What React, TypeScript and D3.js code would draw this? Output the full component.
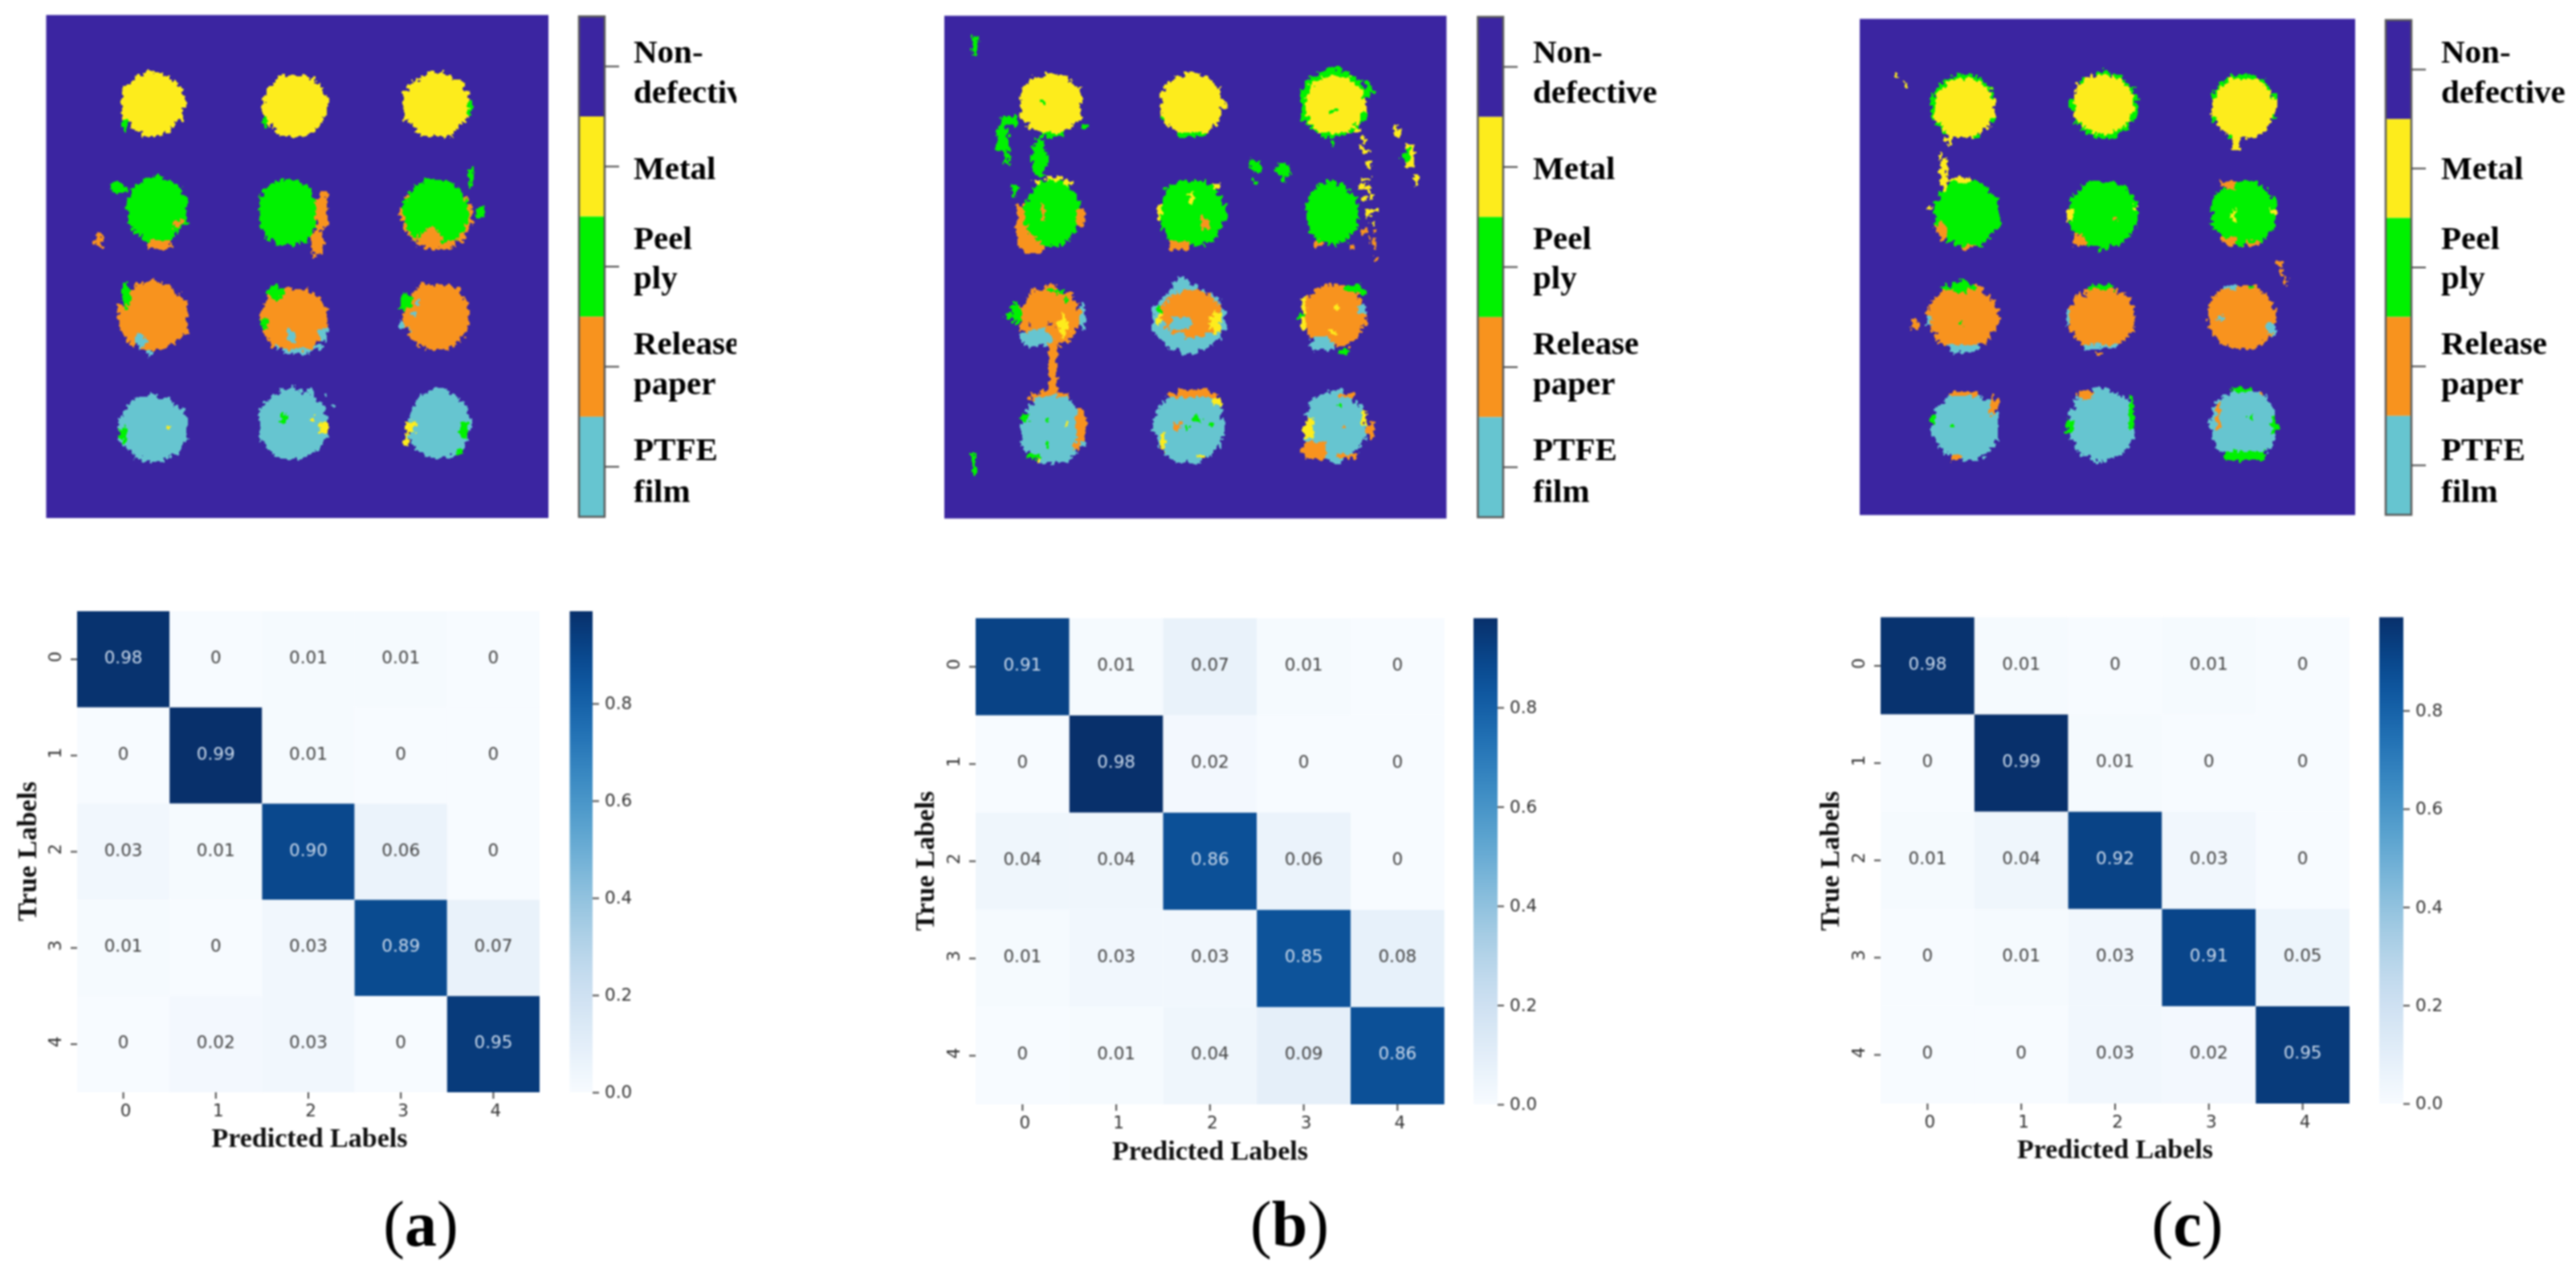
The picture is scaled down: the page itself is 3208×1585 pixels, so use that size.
// App.tsx - segmentation maps and confusion matrices, three methods
import { useRef, useEffect } from "react";
import * as d3 from "d3";

const classNames = [
  ["Non-", "defective"],
  ["Metal"],
  ["Peel", "ply"],
  ["Release", "paper"],
  ["PTFE", "film"],
];
const classColors = ["#3b25a1", "#fdec1c", "#00f200", "#f8931e", "#66c5d0"];
const BG = 0, Y = 1, G = 2, O = 3, T = 4;

// map patches, painted in order: class, column, row, radius in columns, radius in rows (125 x 125 map)
const mapPatchesA = [
  [G, 19.8, 27.5, 0.5, 2], [Y, 26.6, 22, 8, 7.8],
  [G, 54.6, 26.2, 0.8, 1.5], [Y, 61.9, 22.5, 8, 7.8],
  [G, 105.4, 23.2, 0.9, 1.8], [Y, 97, 22.3, 8.2, 8],
  [O, 28, 57, 3.5, 1.5], [G, 27.5, 48.4, 7.7, 8], [G, 17.9, 43.1, 1.8, 1.3], [O, 32.8, 51.8, 0.8, 1.2],
  [O, 13.7, 56.2, 0.8, 1.8], [O, 12.5, 56, 0.4, 0.8],
  [O, 68.8, 48.4, 1.7, 4.5], [O, 67.5, 56.2, 1.3, 4], [G, 60, 49, 7.4, 8.5],
  [O, 97.1, 49.6, 8.8, 8.6], [G, 97.1, 49, 8.2, 8], [O, 95.9, 55.3, 2.8, 2],
  [G, 105.7, 40.1, 0.8, 2.5], [G, 108, 49, 1, 1],
  [O, 26.6, 74.8, 8.8, 8.4], [T, 23.6, 81, 1.8, 1.6], [T, 25.6, 84, 0.7, 1.5], [G, 19.8, 70, 1.2, 2.8],
  [T, 62.6, 82.5, 6, 1.2], [O, 61.6, 75.7, 8.3, 7.8], [G, 56.9, 68.8, 2, 1.8], [G, 54.3, 76.5, 1, 1.4],
  [T, 60.7, 79.6, 1, 1.5], [T, 69, 79.6, 0.9, 2],
  [O, 97.1, 74.8, 8.3, 8.3], [G, 89.5, 71.4, 1.6, 2], [T, 91.4, 74.8, 0.6, 0.6], [T, 92.9, 71.8, 0.6, 0.6],
  [T, 90.7, 78.3, 0.6, 0.6], [T, 88.8, 77, 0.5, 1.5],
  [T, 26.6, 102.6, 8.7, 8.2], [G, 19.2, 103.9, 0.8, 2.5], [Y, 30.7, 102.2, 0.6, 0.6],
  [T, 61.3, 101.7, 8.8, 8.7], [T, 61.3, 92.6, 0.5, 0.5], [T, 65.2, 93, 0.6, 0.5], [T, 69, 94.8, 0.6, 0.5],
  [T, 71, 97.8, 0.5, 0.7], [G, 59, 100, 0.8, 1.8], [Y, 69, 102.6, 1, 2], [Y, 66.5, 100.9, 0.6, 0.5],
  [T, 97.8, 101.7, 7.8, 8.7], [Y, 90.7, 102.2, 1.4, 1.7], [Y, 89.5, 105.2, 0.8, 1.7], [G, 104.2, 103, 1, 2.2],
  [G, 102.9, 108.7, 0.8, 0.8],
];

const mapPatchesB = [
  [G, 7.8, 7.4, 0.6, 3], [G, 8.4, 5.2, 0.7, 0.7],
  [G, 27, 29.5, 3, 0.8], [Y, 26.5, 21.9, 8, 7.6], [G, 24.4, 21.1, 0.5, 0.5],
  [G, 16.1, 26, 3, 0.8], [G, 14.4, 30.8, 1.8, 3.5], [G, 15.2, 35, 0.7, 1.7], [G, 23.8, 35.2, 1.8, 4.8],
  [G, 35.3, 27.5, 1.2, 0.8], [G, 17.4, 43.4, 0.5, 1.8],
  [G, 61.5, 29.5, 3, 0.7], [G, 54.5, 24.7, 0.7, 1.2], [Y, 61.7, 21.9, 7.9, 7.6],
  [G, 97, 21.7, 8.5, 8.4], [Y, 97.3, 22.1, 7.6, 7.4], [G, 97, 23.2, 0.6, 0.7], [G, 105.6, 17.8, 1, 1.8], [G, 96, 31, 0.5, 1.7],
  [Y, 103, 28.2, 0.7, 0.7], [Y, 104.3, 30.8, 0.8, 0.8], [Y, 104.9, 33.4, 0.8, 0.8], [Y, 103.7, 32.6, 0.6, 0.6], [Y, 105.6, 36.9, 0.7, 0.7],
  [Y, 104.9, 40.4, 0.8, 0.8], [Y, 104.3, 42.5, 0.8, 0.8], [Y, 105.6, 43, 0.8, 0.8], [Y, 106.2, 45.1, 0.8, 0.8], [Y, 104.3, 45.6, 0.7, 0.7],
  [Y, 106.9, 48.2, 0.8, 0.8], [Y, 105.6, 49, 0.6, 0.6], [Y, 106.2, 51.6, 0.7, 0.7],
  [O, 107.5, 53.8, 0.7, 0.7], [O, 104.3, 53.4, 0.7, 0.7], [O, 107.2, 56.9, 0.6, 0.7], [O, 106.2, 56, 0.7, 0.6], [O, 107.5, 60.5, 0.8, 0.6],
  [Y, 113.2, 29, 1.2, 1], [Y, 112.3, 27, 0.5, 0.5], [Y, 115.8, 35, 1.3, 3.5], [Y, 117.5, 40.4, 0.4, 1.8], [G, 115.1, 34.7, 0.8, 1.5],
  [G, 77.7, 37.3, 1.6, 1.8], [G, 77.4, 41, 0.5, 0.5], [G, 84.2, 38.6, 1.8, 2],
  [O, 21.9, 55, 4, 4], [O, 19.3, 50, 1.3, 3.5], [Y, 27, 41.2, 5, 0.8], [G, 27, 49, 7, 8.2], [O, 24.4, 49, 0.6, 2.2], [O, 34, 50, 1, 2.2],
  [G, 61.5, 49, 8.3, 8.2], [O, 58.3, 56.9, 2.5, 1.3], [O, 65.3, 51.7, 1.2, 1.8], [Y, 61.5, 45.6, 0.5, 1.5], [Y, 67.9, 42.5, 0.8, 0.8], [Y, 53.6, 49, 0.6, 2],
  [G, 96.6, 49, 6.8, 7.8], [O, 101, 57, 1, 0.5], [O, 93, 56.5, 0.6, 0.6],
  [O, 26.3, 74.7, 7.5, 7.4], [T, 23.1, 80.3, 4, 2.2], [T, 34.6, 74.2, 0.9, 3.5], [G, 17.8, 73.8, 1, 2.6], [G, 28.2, 68.1, 2.5, 0.6],
  [BG, 21.8, 76.1, 1.5, 0.4], [BG, 26.3, 76.4, 0.8, 0.4], [Y, 29.5, 77, 1.2, 2.6], [O, 27, 88, 1.5, 6], [G, 30.8, 70.7, 0.6, 0.6], [G, 16.1, 74.7, 0.7, 0.6],
  [T, 60.8, 75.5, 9, 8.2], [O, 61.5, 74.2, 7.4, 6.2], [T, 58.9, 66.8, 1.8, 1.4], [T, 58.9, 76.8, 2.8, 1.6], [T, 57.6, 80.3, 2.2, 1.8],
  [Y, 67.9, 76.4, 1.6, 3], [Y, 53.7, 74.2, 0.7, 2.5], [G, 53.9, 73, 0.7, 0.9],
  [O, 97, 74.7, 8, 7.8], [T, 94, 81.6, 3, 1.8], [G, 102.4, 68.1, 2.5, 1], [G, 99.2, 83.3, 1.5, 0.8], [Y, 89.6, 74.2, 0.7, 4], [T, 103.7, 72.9, 1.2, 1.3],
  [Y, 96.6, 78.1, 0.6, 0.6], [Y, 97.9, 72, 0.6, 0.6], [G, 89, 74.7, 0.6, 1.4],
  [O, 25.7, 94.6, 5, 1.2], [T, 27, 102.9, 8.3, 8.5], [O, 34, 102, 1.2, 4.5], [O, 33.1, 107.2, 0.8, 1.5], [G, 19.9, 99.8, 1, 1], [G, 25.7, 100.7, 0.7, 0.8],
  [Y, 30.8, 101.8, 0.4, 0.4], [G, 21.9, 109.4, 2, 0.9], [Y, 23.8, 110, 0.8, 0.5], [G, 7.5, 111.5, 0.5, 2.2], [G, 25.7, 107.2, 0.4, 1],
  [T, 61, 102, 8.7, 9], [O, 62, 94.2, 6, 1], [Y, 67.9, 95.9, 1, 1.2], [O, 58, 102.2, 1.4, 1.1], [G, 62.8, 100.3, 1, 1], [G, 60.2, 102.2, 0.5, 0.5],
  [G, 66.6, 101, 0.5, 0.5], [Y, 54.4, 106.3, 0.6, 2], [Y, 64, 109.4, 1, 0.6],
  [T, 97.3, 102, 7.7, 8.7], [O, 92.2, 108, 3.2, 2.4], [Y, 90.9, 102.8, 1.5, 2.8], [O, 99.8, 94.2, 2.5, 0.7], [Y, 104.3, 100.3, 0.7, 2], [O, 106.2, 103.3, 0.8, 2],
  [G, 98.5, 96.3, 0.7, 0.7], [O, 99.8, 102.4, 0.6, 0.6], [O, 100.5, 109.8, 3, 0.7],
];

const mapPatchesC = [
  [G, 26.3, 22, 8.2, 8.3], [Y, 26.3, 22.5, 7.7, 7.6], [Y, 9.2, 14.6, 0.4, 0.8], [Y, 11.4, 16.4, 0.4, 0.4], [Y, 22.2, 30.4, 0.8, 1.2],
  [G, 61.7, 21.7, 8.3, 8.3], [Y, 61.3, 21.4, 7.6, 7.6],
  [G, 96.9, 22, 8.2, 8.3], [Y, 96.9, 22.3, 7.9, 7.7], [Y, 95.3, 31.5, 1.2, 1.8],
  [Y, 21.2, 39.2, 1, 4.4], [Y, 20.9, 34.4, 0.5, 0.5], [Y, 17.8, 47.6, 0.4, 0.4], [G, 27.1, 48.9, 8.2, 8.4], [O, 20.6, 53.3, 1.2, 2.6], [Y, 25.4, 40.6, 3, 0.5], [O, 27.4, 57.2, 2, 0.5],
  [G, 61.3, 49.1, 8.8, 8.5], [Y, 53, 49.3, 0.6, 3], [O, 55.5, 55.9, 1.8, 1.6], [O, 64.4, 50.7, 0.8, 0.5], [Y, 69.9, 47.6, 0.4, 0.5],
  [G, 97, 49.1, 8.4, 8.3], [O, 93.2, 41.9, 2.4, 0.8], [O, 93.2, 55.9, 1.8, 1.3], [O, 98.7, 56.8, 2.3, 0.5], [Y, 94.2, 49.3, 0.8, 1.3], [Y, 104.9, 48.9, 0.5, 1],
  [O, 26, 75.1, 8.8, 8.3], [G, 25.4, 67.4, 4, 1.2], [T, 26, 82.8, 4, 0.9], [G, 25.1, 76.2, 0.6, 0.9], [O, 14, 77.3, 1, 1], [T, 17.8, 75.7, 0.5, 1.5],
  [O, 61, 75.3, 8.4, 7.8], [G, 61, 67.8, 3.5, 0.6], [T, 52.1, 74.8, 0.6, 2.5], [T, 61, 82.3, 4, 0.7], [O, 60.6, 84.3, 1, 0.4], [BG, 56.6, 69.8, 0.5, 0.4],
  [O, 96.4, 75.1, 8.5, 8.2], [T, 104.2, 78.4, 1, 1.3], [T, 91.1, 75.3, 1, 0.5], [T, 93.2, 67.8, 2, 0.5], [G, 98.7, 67, 3, 0.5], [O, 106.2, 61.7, 0.8, 0.6], [O, 106.5, 63.9, 0.6, 0.7], [O, 107.3, 66, 0.5, 0.8],
  [T, 26.7, 102.6, 8.5, 8.6], [O, 26.7, 94.6, 3.5, 0.8], [O, 33.6, 97.3, 1, 2.6], [O, 24.7, 110.9, 2, 0.6], [G, 23.3, 102.7, 0.4, 0.8], [G, 18.8, 100.8, 0.5, 1.3],
  [T, 61, 102.1, 8.5, 8.8], [G, 68.5, 99, 1, 3.5], [G, 53, 102.5, 0.8, 1.3], [O, 56.9, 94.6, 1.8, 1.2], [T, 60.3, 111.2, 0.6, 0.6],
  [T, 96.9, 102.1, 8.5, 8.8], [G, 96.6, 110, 6, 0.9], [G, 98.7, 100.4, 0.4, 0.8], [O, 101.4, 94.7, 0.7, 0.7], [G, 104.9, 102.5, 0.6, 3.5], [G, 96.6, 93.8, 3, 0.5], [O, 90.5, 100, 0.5, 2.6],
];

const confusionA = [
  [0.98, 0, 0.01, 0.01, 0],
  [0, 0.99, 0.01, 0, 0],
  [0.03, 0.01, 0.9, 0.06, 0],
  [0.01, 0, 0.03, 0.89, 0.07],
  [0, 0.02, 0.03, 0, 0.95],
];
const confusionB = [
  [0.91, 0.01, 0.07, 0.01, 0],
  [0, 0.98, 0.02, 0, 0],
  [0.04, 0.04, 0.86, 0.06, 0],
  [0.01, 0.03, 0.03, 0.85, 0.08],
  [0, 0.01, 0.04, 0.09, 0.86],
];
const confusionC = [
  [0.98, 0.01, 0, 0.01, 0],
  [0, 0.99, 0.01, 0, 0],
  [0.01, 0.04, 0.92, 0.03, 0],
  [0, 0.01, 0.03, 0.91, 0.05],
  [0, 0, 0.03, 0.02, 0.95],
];
const matrixTicks = ["0", "1", "2", "3", "4"];
const colorbarTicks = [0, 0.2, 0.4, 0.6, 0.8];

// baselines of the legend text lines, same for every panel
const legendBaselines = [[78, 128], [223], [310, 359], [441, 491], [573, 625]];

const panels = [
  {
    tag: "a", patches: mapPatchesA, matrix: confusionA,
    map: { l: 57.5, r: 683, t: 18.7, b: 645 }, bar: { l: 721, r: 753, t: 20.4, b: 643.5 }, legendX: 789, clipX: 917,
    heat: { l: 96, r: 672, t: 761, b: 1360 }, cbar: { l: 709.5, r: 738 },
    xTitle: { x: 385.5, y: 1428 }, yTitle: { x: 45, y: 1060 }, tagX: 524,
  },
  {
    tag: "b", patches: mapPatchesB, matrix: confusionB,
    map: { l: 1176, r: 1801.4, t: 19.6, b: 645.6 }, bar: { l: 1840.4, r: 1872, t: 21, b: 644 }, legendX: 1909, clipX: 3208,
    heat: { l: 1215, r: 1798.7, t: 769.7, b: 1375 }, cbar: { l: 1835, r: 1865 },
    xTitle: { x: 1507, y: 1444 }, yTitle: { x: 1163, y: 1072 }, tagX: 1606,
  },
  {
    tag: "c", patches: mapPatchesC, matrix: confusionC,
    map: { l: 2316, r: 2933, t: 23.5, b: 641.3 }, bar: { l: 2971, r: 3003, t: 25, b: 641 }, legendX: 3040, clipX: 3208,
    heat: { l: 2342, r: 2926, t: 768.5, b: 1374 }, cbar: { l: 2963, r: 2993 },
    xTitle: { x: 2634, y: 1442 }, yTitle: { x: 2290, y: 1072 }, tagX: 2724,
  },
];

const MAP_SIZE = 125;
const SERIF = "'Liberation Serif', 'Times New Roman', serif";
const SANS = "'DejaVu Sans', sans-serif";
const TICK_COLOR = "#4a4a4a";

// paint the patches onto the class grid
function rasterize(patches: number[][]) {
  const grid = d3.range(MAP_SIZE).map(() => new Array(MAP_SIZE).fill(BG));
  patches.forEach(([cls, col, row, rx, ry]) => {
    grid[Math.floor(row)][Math.floor(col)] = cls;
    for (let r = Math.floor(row - ry); r <= Math.ceil(row + ry); r++) {
      for (let c = Math.floor(col - rx); c <= Math.ceil(col + rx); c++) {
        if (r < 0 || c < 0 || r >= MAP_SIZE || c >= MAP_SIZE) continue;
        const dx = (c + 0.5 - col) / rx;
        const dy = (r + 0.5 - row) / ry;
        if (dx * dx + dy * dy <= 1) grid[r][c] = cls;
      }
    }
  });
  return grid;
}

function styleAxis(g: any) {
  g.select(".domain").remove();
  g.selectAll(".tick line").attr("stroke", TICK_COLOR).attr("stroke-width", 2);
  g.selectAll(".tick text").attr("fill", "#333").style("font-family", SANS).style("font-size", "21.5px");
}

function drawMap(root: any, p: any, i: number) {
  const x = d3.scaleLinear().domain([0, MAP_SIZE]).range([p.map.l, p.map.r]);
  const y = d3.scaleLinear().domain([0, MAP_SIZE]).range([p.map.t, p.map.b]);
  root.append("rect")
    .attr("x", x(0)).attr("y", y(0))
    .attr("width", x(MAP_SIZE) - x(0)).attr("height", y(MAP_SIZE) - y(0))
    .attr("fill", classColors[BG]);

  // one rect per run of equal class in each row; background runs stay so holes show through
  const g = root.append("g").attr("shape-rendering", "crispEdges").attr("filter", "url(#rough)");
  rasterize(p.patches).forEach((cells: number[], r: number) => {
    let start = 0;
    for (let c = 1; c <= MAP_SIZE; c++) {
      if (c === MAP_SIZE || cells[c] !== cells[start]) {
        if (cells[start] !== BG) {
          g.append("rect")
            .attr("x", x(start)).attr("y", y(r))
            .attr("width", x(c) - x(start)).attr("height", y(r + 1) - y(r) + 0.5)
            .attr("fill", classColors[cells[start]]);
        }
        start = c;
      }
    }
  });

  // discrete legend bar
  const band = d3.scaleBand().domain(classNames.map((_, k) => String(k))).range([p.bar.t, p.bar.b]);
  const bar = root.append("g");
  bar.selectAll("rect").data(classColors).join("rect")
    .attr("x", p.bar.l).attr("y", (_: string, k: number) => band(String(k)))
    .attr("width", p.bar.r - p.bar.l).attr("height", band.bandwidth())
    .attr("fill", (d: string) => d);
  bar.append("rect")
    .attr("x", p.bar.l).attr("y", p.bar.t)
    .attr("width", p.bar.r - p.bar.l).attr("height", p.bar.b - p.bar.t)
    .attr("fill", "none").attr("stroke", "#5a5a5a").attr("stroke-width", 2.5);
  const axis = root.append("g").attr("transform", `translate(${p.bar.r},0)`)
    .call(d3.axisRight(band).tickSize(18).tickFormat(() => ""));
  styleAxis(axis);

  const clipId = `legend-clip-${i}`;
  root.append("clipPath").attr("id", clipId).append("rect")
    .attr("x", p.legendX - 5).attr("y", 0).attr("width", p.clipX - p.legendX + 5).attr("height", 700);
  const legend = root.append("g").attr("clip-path", `url(#${clipId})`);
  classNames.forEach((lines, k) => {
    lines.forEach((line, n) => {
      legend.append("text")
        .attr("x", p.legendX).attr("y", legendBaselines[k][n])
        .attr("fill", "#000").attr("font-weight", "bold")
        .style("font-family", SERIF).style("font-size", "41px")
        .text(line);
    });
  });
}

function drawMatrix(root: any, p: any, i: number) {
  const vmax = d3.max(p.matrix.flat() as number[]) as number;
  const color = d3.scaleSequential(d3.interpolateBlues).domain([0, vmax]);
  const x = d3.scaleBand().domain(matrixTicks).range([p.heat.l, p.heat.r]);
  const y = d3.scaleBand().domain(matrixTicks).range([p.heat.t, p.heat.b]);

  const cells = root.append("g").selectAll("g")
    .data((p.matrix as number[][]).flatMap((row, r) => row.map((v, c) => ({ r, c, v }))))
    .join("g");
  cells.append("rect")
    .attr("x", (d: any) => x(String(d.c))).attr("y", (d: any) => y(String(d.r)))
    .attr("width", x.bandwidth()).attr("height", y.bandwidth())
    .attr("fill", (d: any) => color(d.v));
  cells.append("text")
    .attr("x", (d: any) => (x(String(d.c)) as number) + x.bandwidth() / 2)
    .attr("y", (d: any) => (y(String(d.r)) as number) + y.bandwidth() / 2 + 5)
    .attr("text-anchor", "middle")
    .attr("fill", (d: any) => (d.v > 0.5 ? "#c9d8ea" : "#444"))
    .style("font-family", SANS).style("font-size", "21.5px")
    .text((d: any) => (d.v === 0 ? "0" : d.v.toFixed(2)));

  const xAxis = root.append("g").attr("transform", `translate(0,${p.heat.b})`)
    .call(d3.axisBottom(x).tickSize(8).tickPadding(7));
  styleAxis(xAxis);
  xAxis.selectAll(".tick text").attr("dx", 3);

  const yAxis = root.append("g").attr("transform", `translate(${p.heat.l},0)`)
    .call(d3.axisLeft(y).tickSize(8).tickPadding(0));
  styleAxis(yAxis);
  yAxis.selectAll(".tick text")
    .attr("x", null).attr("dy", null)
    .attr("text-anchor", "middle")
    .attr("transform", "translate(-20,-3) rotate(-90)");

  // continuous colorbar
  const scale = d3.scaleLinear().domain([0, vmax]).range([p.heat.b, p.heat.t]);
  const gradId = `blues-${i}`;
  const grad = root.append("linearGradient").attr("id", gradId)
    .attr("x1", 0).attr("x2", 0).attr("y1", 1).attr("y2", 0);
  d3.range(0, 1.001, 0.05).forEach((t) => {
    grad.append("stop").attr("offset", t).attr("stop-color", color(t * vmax));
  });
  root.append("rect")
    .attr("x", p.cbar.l).attr("y", p.heat.t)
    .attr("width", p.cbar.r - p.cbar.l).attr("height", p.heat.b - p.heat.t)
    .attr("fill", `url(#${gradId})`);
  const cAxis = root.append("g").attr("transform", `translate(${p.cbar.r},0)`)
    .call(d3.axisRight(scale).tickValues(colorbarTicks).tickFormat(d3.format(".1f")).tickSize(8).tickPadding(7));
  styleAxis(cAxis);

  root.append("text")
    .attr("x", p.xTitle.x).attr("y", p.xTitle.y).attr("text-anchor", "middle")
    .attr("font-weight", "bold").attr("fill", "#111")
    .style("font-family", SERIF).style("font-size", "34px")
    .text("Predicted Labels");
  root.append("text")
    .attr("transform", `translate(${p.yTitle.x},${p.yTitle.y}) rotate(-90)`).attr("text-anchor", "middle")
    .attr("font-weight", "bold").attr("fill", "#111")
    .style("font-family", SERIF).style("font-size", "34px")
    .text("True Labels");

  const tag = root.append("text")
    .attr("x", p.tagX).attr("y", 1551).attr("text-anchor", "middle").attr("fill", "#000")
    .style("font-family", SERIF).style("font-size", "80px");
  tag.append("tspan").text("(");
  tag.append("tspan").attr("font-weight", "bold").text(p.tag);
  tag.append("tspan").text(")");
}

const App = () => {
  const ref = useRef<SVGSVGElement | null>(null);

  useEffect(() => {
    if (!ref.current) return;
    const svg = d3.select(ref.current);
    svg.selectAll("*").remove();

    // the whole figure is a soft, resampled raster
    svg.append("filter").attr("id", "soft")
      .attr("filterUnits", "userSpaceOnUse")
      .attr("color-interpolation-filters", "sRGB")
      .attr("x", 0).attr("y", 0).attr("width", 3208).attr("height", 1585)
      .append("feGaussianBlur").attr("stdDeviation", 1);

    // ragged edges on the map regions
    const rough = svg.append("filter").attr("id", "rough")
      .attr("filterUnits", "userSpaceOnUse")
      .attr("color-interpolation-filters", "sRGB")
      .attr("x", 0).attr("y", 0).attr("width", 3208).attr("height", 700);
    rough.append("feTurbulence")
      .attr("type", "fractalNoise").attr("baseFrequency", 0.16)
      .attr("numOctaves", 2).attr("seed", 4).attr("result", "noise");
    rough.append("feDisplacementMap")
      .attr("in", "SourceGraphic").attr("in2", "noise")
      .attr("scale", 12).attr("xChannelSelector", "R").attr("yChannelSelector", "G");

    const root = svg.append("g").attr("filter", "url(#soft)");
    panels.forEach((p, i) => {
      drawMap(root, p, i);
      drawMatrix(root, p, i);
    });
  }, []);

  return (
    <svg
      ref={ref}
      width={3208}
      height={1585}
      style={{ position: "absolute", left: 0, top: 0, background: "#fff", display: "block" }}
    />
  );
};

export default App;
